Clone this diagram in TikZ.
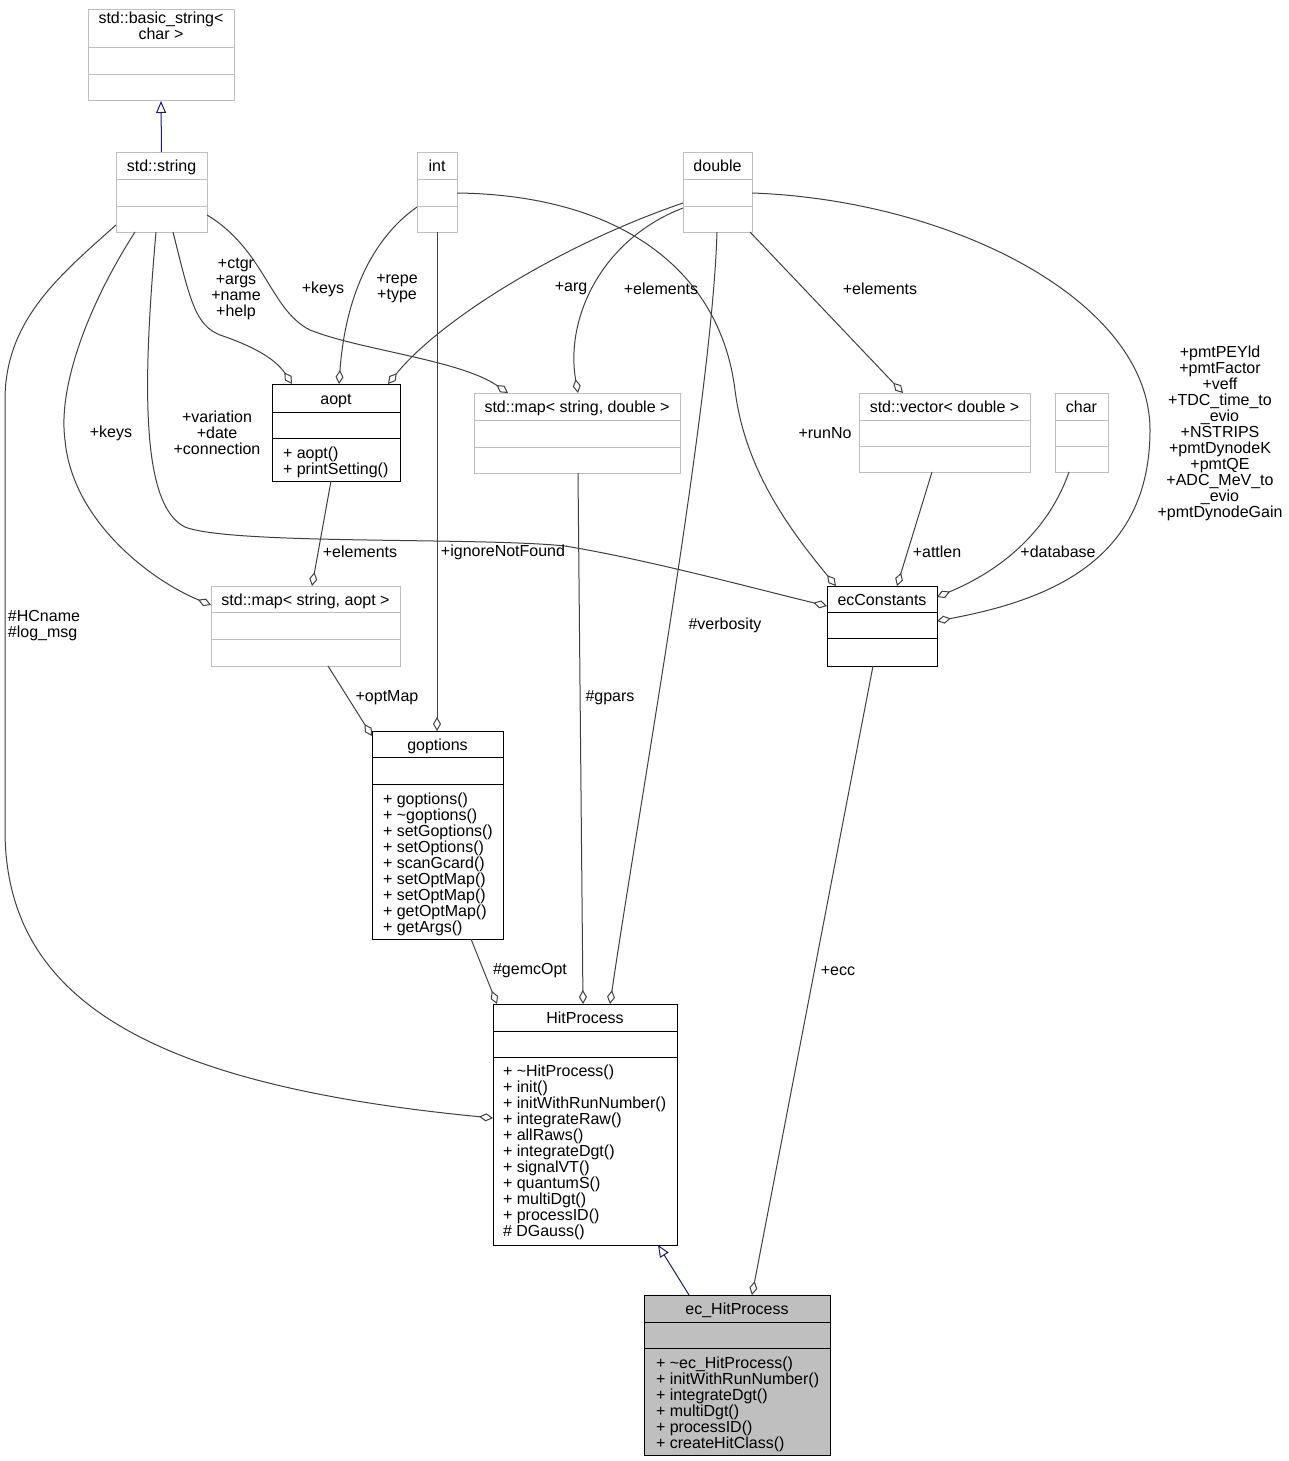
\documentclass[tikz,border=0pt]{standalone}
\usepackage{fontspec}
\setmainfont{Liberation Sans}
\usetikzlibrary{arrows.meta,calc}
\definecolor{edgec}{HTML}{404040}
\definecolor{greyb}{HTML}{BFBFBF}
\definecolor{navyc}{HTML}{191970}
% #1 name, #2 draw colour, #3 fill, #4 x1, #5 y1, #6 x2, #7 y2, #8 sep1, #9 sep2
\newcommand\classbox[9]{%
  \node[draw=#2, fill=#3, line width=1pt, inner sep=0pt, outer sep=0pt, anchor=north west,
        minimum width={(#6-#4)*1pt}, minimum height={(#7-#5)*1pt}] (#1) at (#4,#5) {};
  \draw[#2, line width=1pt] (#4,#8) -- (#6,#8) (#4,#9) -- (#6,#9);
}
% methods: #1 x, #2 first baseline, #3 list
\newcommand\methodlist[4]{%
  \foreach \m [count=\i from 0] in {#4}
    \node[lbl, anchor=base west] (#1-\i) at (#2,{#3+16*\i}) {\m};
}
\begin{document}
\begin{tikzpicture}[x=1pt,y=-1pt,
  lbl/.style={font=\fontsize{16}{16}\selectfont, inner sep=0pt, outer sep=0pt},
  elbl/.style={lbl, align=center},
  agg/.style={draw=edgec, line width=1pt, -{Diamond[fill=white,length=14pt,width=8pt]}},
  inh/.style={draw=navyc, line width=1pt, -{Triangle[fill=white,length=12pt,width=10pt]}},
]
\fill[white] (0,0) rectangle (1288,1461);
\useasboundingbox (0,0) rectangle (1288,1461);

% ---------- classes ----------
\classbox{bstr}{greyb}{white}{88}{10}{234}{101}{48}{75}
\node[lbl, anchor=base] (bstr-t1) at (161,24) {std::basic\_string<};
\node[lbl, anchor=base] (bstr-t2) at (161,40) {char >};

\classbox{str}{greyb}{white}{116}{152}{207}{232}{179}{206}
\node[lbl, anchor=base] (str-t) at (161.5,171.5) {std::string};

\classbox{int}{greyb}{white}{417}{152}{457}{232}{179}{206}
\node[lbl, anchor=base] (int-t) at (437,171.5) {int};

\classbox{dbl}{greyb}{white}{683}{152}{752}{232}{179}{206}
\node[lbl, anchor=base] (dbl-t) at (717.5,171.5) {double};

\classbox{aopt}{black}{white}{272}{384}{400}{481}{412}{438}
\node[lbl, anchor=base] (aopt-t) at (336,404) {aopt};
\methodlist{aoptm}{283}{458}{{+ aopt()},{+ printSetting()}}

\classbox{mapd}{greyb}{white}{474}{393}{680}{473}{420}{447}
\node[lbl, anchor=base] (mapd-t) at (577,412.5) {std::map< string, double >};

\classbox{vec}{greyb}{white}{859}{393}{1030}{472}{420}{446}
\node[lbl, anchor=base] (vec-t) at (944.5,412.5) {std::vector< double >};

\classbox{chr}{greyb}{white}{1055}{393}{1108}{472}{420}{446}
\node[lbl, anchor=base] (chr-t) at (1081.5,412.5) {char};

\classbox{ecconst}{black}{white}{827}{586}{937}{666}{612}{638}
\node[lbl, anchor=base] (ecconst-t) at (882,605) {ecConstants};

\classbox{mapa}{greyb}{white}{211}{586}{400}{666}{612}{639}
\node[lbl, anchor=base] (mapa-t) at (305.5,605) {std::map< string, aopt >};

\classbox{gopt}{black}{white}{372}{731}{503}{939}{757}{784}
\node[lbl, anchor=base] (gopt-t) at (437.5,750) {goptions};
\methodlist{goptm}{383}{804}{{+ goptions()},{+ \textasciitilde{}goptions()},{+ setGoptions()},{+ setOptions()},{+ scanGcard()},{+ setOptMap()},{+ setOptMap()},{+ getOptMap()},{+ getArgs()}}

\classbox{hit}{black}{white}{493}{1004}{677}{1245}{1031}{1057}
\node[lbl, anchor=base] (hit-t) at (585,1023.5) {HitProcess};
\methodlist{hitm}{503}{1076.5}{{+ \textasciitilde{}HitProcess()},{+ init()},{+ initWithRunNumber()},{+ integrateRaw()},{+ allRaws()},{+ integrateDgt()},{+ signalVT()},{+ quantumS()},{+ multiDgt()},{+ processID()},{\# DGauss()}}

\classbox{echit}{black}{greyb}{644}{1295}{830}{1455}{1322}{1348}
\node[lbl, anchor=base] (echit-t) at (737,1314.5) {ec\_HitProcess};
\methodlist{echitm}{656}{1368}{{+ \textasciitilde{}ec\_HitProcess()},{+ initWithRunNumber()},{+ integrateDgt()},{+ multiDgt()},{+ processID()},{+ createHitClass()}}

% ---------- inheritance ----------
\draw[inh] (str.north) -- (bstr.south);
\draw[inh] ($(echit.north west)+(45,0)$) -- ($(hit.south west)+(165,0)$);

% ---------- aggregation ----------
% std::string -> aopt
\draw[agg] ($(str.south west)+(57,0)$) .. controls (190,300) and (195,325) .. (220,335)
  .. controls (250,345) and (275,358) .. ($(aopt.north west)+(20,0)$);
% std::string -> map<string,double>
\draw[agg] ($(str.south east)+(0,-17)$) .. controls (265,250) and (270,310) .. (310,330)
  .. controls (360,350) and (460,360) .. ($(mapd.north west)+(34,0)$);
% int -> aopt
\draw[agg] ($(int.south west)+(0,-25)$) .. controls (370,240) and (345,300) .. ($(aopt.north west)+(67,0)$);
% double -> aopt
\draw[agg] ($(dbl.north west)+(0,51)$) .. controls (560,245) and (440,320) .. ($(aopt.north west)+(116,0)$);
% double -> map<string,double>
\draw[agg] ($(dbl.north west)+(0,56)$) .. controls (600,240) and (565,320) .. ($(mapd.north west)+(104,0)$);
% double -> vector
\draw[agg] ($(dbl.south east)+(-2,0)$) -- ($(vec.north west)+(44,0)$);
% double -> ecConstants
\draw[agg] ($(dbl.north east)+(0,41)$) .. controls (950,200) and (1150,300) .. (1150,430)
  .. controls (1150,560) and (1050,600) .. ($(ecconst.north east)+(0,35)$);
% int -> ecConstants
\draw[agg] ($(int.north east)+(0,41)$) .. controls (620,195) and (720,270) .. (735,390)
  .. controls (745,470) and (790,530) .. ($(ecconst.north west)+(9,0)$);
% vector -> ecConstants
\draw[agg] ($(vec.south west)+(73,0)$) -- ($(ecconst.north west)+(70,0)$);
% char -> ecConstants
\draw[agg] ($(chr.south west)+(14,0)$) .. controls (1045,540) and (990,575) .. ($(ecconst.north east)+(0,11)$);
% std::string -> ecConstants
\draw[agg] ($(str.south west)+(40,0)$) .. controls (143,380) and (140,505) .. (185,527)
  .. controls (230,545) and (480,537) .. (565,546)
  .. controls (650,560) and (760,590) .. ($(ecconst.north west)+(0,20)$);
% std::string -> map<string,aopt>
\draw[agg] ($(str.south west)+(19,0)$) .. controls (85,310) and (58,390) .. (65,440)
  .. controls (72,520) and (150,580) .. ($(mapa.north west)+(0,19)$);
% aopt -> map<string,aopt>
\draw[agg] ($(aopt.south west)+(59,0)$) -- ($(mapa.north west)+(101,0)$);
% int -> goptions
\draw[agg] (int.south) -- ($(gopt.north west)+(65,0)$);
% map<string,aopt> -> goptions
\draw[agg] ($(mapa.south west)+(117,0)$) -- ($(gopt.north west)+(0,5)$);
% goptions -> HitProcess
\draw[agg] ($(gopt.south west)+(99,0)$) -- ($(hit.north west)+(4,0)$);
% map<string,double> -> HitProcess
\draw[agg] ($(mapd.south west)+(104,0)$) -- ($(hit.north west)+(90,0)$);
% double -> HitProcess
\draw[agg] ($(dbl.south west)+(34,0)$) .. controls (712,400) and (640,800) .. ($(hit.north west)+(117,0)$);
% std::string -> HitProcess
\draw[agg] ($(str.south west)+(0,-7)$) .. controls (60,275) and (5,320) .. (5,400) -- (5,830)
  .. controls (5,1000) and (150,1085) .. ($(hit.north west)+(0,114)$);
% ecConstants -> ec_HitProcess
\draw[agg] ($(ecconst.south west)+(46,0)$) -- ($(echit.north west)+(108,0)$);

% ---------- edge labels ----------
\node[elbl] (l-ctgr) at (236,289) {+ctgr\\+args\\+name\\+help};
\node[elbl] (l-keys1) at (323,289) {+keys};
\node[elbl] (l-repe) at (397,289) {+repe\\+type};
\node[elbl] (l-arg) at (571,289) {+arg};
\node[elbl] (l-el1) at (661,289) {+elements};
\node[elbl] (l-el2) at (880,289) {+elements};
\node[elbl] (l-pmt) at (1220,433) {+pmtPEYld\\+pmtFactor\\+veff\\+TDC\_time\_to\hspace*{24pt}\\\_evio\hspace*{30pt}\\+NSTRIPS\\+pmtDynodeK\\+pmtQE\\+ADC\_MeV\_to\hspace*{24pt}\\\_evio\hspace*{30pt}\\+pmtDynodeGain};
\node[elbl] (l-run) at (825,433) {+runNo};
\node[elbl] (l-var) at (217,433) {+variation\\+date\\+connection};
\node[elbl] (l-keys2) at (111,433) {+keys};
\node[elbl] (l-el3) at (360,552) {+elements};
\node[elbl] (l-ign) at (503,552) {+ignoreNotFound};
\node[elbl] (l-att) at (937,552) {+attlen};
\node[elbl] (l-db) at (1058,552) {+database};
\node[lbl, align=left] (l-hc) at (44,626) {\#HCname\\\#log\_msg};
\node[elbl] (l-verb) at (725,625) {\#verbosity};
\node[elbl] (l-opt) at (387,698) {+optMap};
\node[elbl] (l-gpars) at (610,698) {\#gpars};
\node[elbl] (l-gemc) at (530,971) {\#gemcOpt};
\node[elbl] (l-ecc) at (838,971) {+ecc};
\end{tikzpicture}
\end{document}
